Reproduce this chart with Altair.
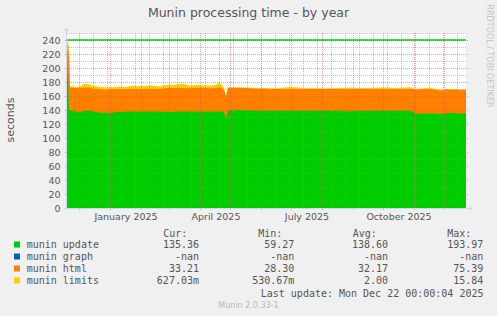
import altair as alt
import pandas as pd

# ---------------- data ----------------
dates = ["2024-11-19", "2024-11-20", "2024-11-21", "2024-11-22", "2024-11-25", "2024-11-28",
         "2024-12-02", "2024-12-06", "2024-12-10", "2024-12-14", "2024-12-18", "2024-12-22",
         "2024-12-26", "2024-12-30", "2025-01-03", "2025-01-07", "2025-01-11", "2025-01-15",
         "2025-01-19", "2025-01-23", "2025-01-27", "2025-01-31", "2025-02-04", "2025-02-08",
         "2025-02-12", "2025-02-16", "2025-02-20", "2025-02-24", "2025-02-28", "2025-03-04",
         "2025-03-08", "2025-03-12", "2025-03-16", "2025-03-20", "2025-03-24", "2025-03-28",
         "2025-04-01", "2025-04-05", "2025-04-09", "2025-04-13", "2025-04-17", "2025-04-21",
         "2025-04-24", "2025-04-26", "2025-04-27", "2025-04-28", "2025-04-29", "2025-05-03",
         "2025-05-11", "2025-05-19", "2025-05-27", "2025-06-04", "2025-06-12", "2025-06-20",
         "2025-06-28", "2025-07-06", "2025-07-14", "2025-07-22", "2025-07-30", "2025-08-07",
         "2025-08-15", "2025-08-23", "2025-08-29", "2025-09-04", "2025-09-12", "2025-09-20",
         "2025-09-28", "2025-10-06", "2025-10-14", "2025-10-22", "2025-10-28", "2025-10-31",
         "2025-11-03", "2025-11-07", "2025-11-13", "2025-11-19", "2025-11-25", "2025-11-30",
         "2025-12-03", "2025-12-09", "2025-12-13", "2025-12-17", "2025-12-22", "2025-12-23"]

update = [192, 192, 140, 139.4, 139, 137.5, 136.6, 139, 139, 138.5,
          137, 136, 136, 136, 136, 137, 137, 137.5, 138, 138,
          138, 138, 138, 138, 138, 138, 138, 137.5, 137, 137,
          138, 138, 138, 138, 138, 138, 138, 138, 138, 138,
          138, 138, 137.5, 134, 128.6, 133, 139, 139.5, 139.5, 139.5,
          139, 139, 139, 139, 139, 139, 139, 139, 139, 139,
          139, 139, 138, 139, 139, 139, 139, 139, 139, 139,
          139, 137, 134.5, 135, 135, 135, 134.5, 134.5, 135.5, 136,
          135, 135, 135.36, 135.36]

html = [34, 34, 75, 32.6, 32.5, 34, 34.4, 33, 33, 32.5,
        33, 33.5, 33, 33, 33.5, 33, 33, 32, 32, 32,
        32, 31.5, 32, 32.5, 32.5, 32, 32, 33.5, 34.5, 34.5,
        33.5, 33.5, 33.5, 33, 33, 33.5, 33.5, 33.5, 33, 33,
        33.5, 34, 33, 30, 30.4, 32, 32.5, 32, 32, 31.5,
        31.5, 31.5, 31, 31, 31, 31, 31, 31, 31, 31,
        31, 31, 32, 31, 31, 31, 31, 31, 31, 31,
        31, 32.5, 34.5, 34.5, 35, 34.5, 33.5, 33.5, 33.5, 33,
        34, 33.5, 33.21, 33.21]

limits = [11, 11, 15.8, 2, 2.5, 1.5, 2.5, 5.5, 5, 4,
          4, 3.5, 3.5, 3, 3, 3, 4, 3, 3.5, 5,
          4, 5, 4, 4.5, 4.5, 4, 3.5, 4, 4.5, 4.5,
          4.5, 5.5, 5.5, 4.5, 4, 4.5, 4, 3.5, 4, 4,
          4.5, 7, 3.5, 3, 1, 2, 1, 1, 1, 1,
          1, 1, 1, 1.5, 2.5, 2.5, 1, 1.5, 1, 1,
          1.5, 1.5, 2, 1.5, 1.5, 1.5, 2, 2, 1, 2,
          2.5, 1.5, 1.5, 1, 1.5, 1.5, 1.5, 1, 1, 1,
          1, 0.5, 0.63, 0.63]

names = ["munin update", "munin graph", "munin html", "munin limits"]
colors = ["#00CC00", "#0066B3", "#FF8000", "#FFCC00"]
cur_vals = ["135.36", "-nan", "33.21", "627.03m"]
min_vals = ["59.27", "-nan", "28.30", "530.67m"]
avg_vals = ["138.60", "-nan", "32.17", "2.00"]
max_vals = ["193.97", "-nan", "75.39", "15.84"]
headers = ["Cur:", "Min:", "Avg:", "Max:"]

y_ticks = [0, 20, 40, 60, 80, 100, 120, 140, 160, 180, 200, 220, 240]
y_minor = [10, 30, 50, 70, 90, 110, 130, 150, 170, 190, 210, 230, 250]
x_major = pd.date_range("2024-12-01", "2025-12-01", freq="MS").strftime("%Y-%m-%d").tolist()
x_minor = pd.date_range("2024-12-15", "2025-12-20", freq="14D").strftime("%Y-%m-%d").tolist()
x_label_dates = [(2025, 1, 16), (2025, 4, 16), (2025, 7, 16), (2025, 10, 16)]
hrule_value = 240

title_text = "Munin processing time - by year"
y_title = "seconds"
last_update = "Last update: Mon Dec 22 00:00:04 2025"
version_text = "Munin 2.0.33-1"
watermark = "RRDTOOL / TOBI OETIKER"

# ---------------- tables ----------------
df = pd.DataFrame({"date": dates, "update": update, "html": html, "limits": limits})
df["u_top"] = df["update"]
df["h_top"] = df["update"] + df["html"]
df["l_top"] = df["h_top"] + df["limits"]

FONT = "DejaVu Sans"
MONO = "DejaVu Sans Mono"
TXT = "#555555"
AXIS_COL = "#CFD6F8"

xscale = alt.Scale(type="utc",
                   domain=[alt.DateTime(year=2024, month=11, date=19, utc=True),
                           alt.DateTime(year=2025, month=12, date=23, utc=True)])
xaxis = alt.Axis(values=[alt.DateTime(year=y, month=m, date=d, hours=12, utc=True)
                         for (y, m, d) in x_label_dates],
                 labelExpr="utcFormat(datum.value, '%B %Y')", title=None, grid=False,
                 ticks=False, domain=False, labelFont=FONT, labelFontSize=9.5,
                 labelColor=TXT, labelPadding=3, labelOverlap=False)
yscale = alt.Scale(domain=[0, 250], nice=False, zero=True)
yaxis = alt.Axis(values=y_ticks, title=None, grid=False, domain=False, ticks=True,
                 tickColor="#E88080", tickSize=2, labelFont=FONT, labelFontSize=9.5,
                 labelColor=TXT, labelPadding=5, labelOverlap=False)


def X(field="date"):
    return alt.X(f"{field}:T", scale=xscale, axis=xaxis)


def Y(field):
    return alt.Y(f"{field}:Q", scale=yscale, axis=yaxis)


base = alt.Chart(df)
area_l = base.mark_area(color=colors[3], interpolate="linear").encode(x=X(), y=Y("l_top"))
area_h = base.mark_area(color=colors[2], interpolate="linear").encode(x=X(), y=Y("h_top"))
area_u = base.mark_area(color=colors[0], interpolate="linear").encode(x=X(), y=Y("u_top"))

GREY = "#8F8F8F"
RED = "#E05050"
grid_minor_x = alt.Chart(pd.DataFrame({"date": x_minor})).mark_rule(
    color=GREY, strokeOpacity=0.55, strokeDash=[1, 1], strokeWidth=1, xOffset=0.5).encode(
    x=alt.X("date:T", scale=xscale), y=alt.value(0), y2=alt.value(175))
grid_major_x = alt.Chart(pd.DataFrame({"date": x_major})).mark_rule(
    color=RED, strokeOpacity=0.55, strokeDash=[1, 1], strokeWidth=1, xOffset=0.5).encode(
    x=alt.X("date:T", scale=xscale), y=alt.value(0), y2=alt.value(177))
grid_minor_y = alt.Chart(pd.DataFrame({"v": y_minor})).mark_rule(
    color=GREY, strokeOpacity=0.55, strokeDash=[1, 1], strokeWidth=1, yOffset=0.5).encode(
    y=Y("v"), x=alt.value(0), x2=alt.value(399))
grid_major_y = alt.Chart(pd.DataFrame({"v": y_ticks})).mark_rule(
    color=RED, strokeOpacity=0.55, strokeDash=[1, 1], strokeWidth=1, yOffset=0.5).encode(
    y=Y("v"), x=alt.value(-2), x2=alt.value(401))

hrule = alt.Chart(pd.DataFrame({"v": [hrule_value]})).mark_rule(
    color=colors[0], strokeWidth=1.5).encode(y=Y("v"), x=alt.value(0), x2=alt.value(399))

one = pd.DataFrame({"a": [0]})
yaxis_line = alt.Chart(one).mark_rule(color=AXIS_COL, strokeWidth=1).encode(
    x=alt.value(-0.5), y=alt.value(-2), y2=alt.value(177))
xaxis_line = alt.Chart(one).mark_rule(color=AXIS_COL, strokeWidth=1).encode(
    x=alt.value(-2), x2=alt.value(403), y=alt.value(175.5))
arrow_up = alt.Chart(one).mark_point(shape="triangle-up", filled=True, color=AXIS_COL,
                                     size=22, opacity=1).encode(x=alt.value(-0.5), y=alt.value(-4))
arrow_right = alt.Chart(one).mark_point(shape="triangle-right", filled=True, color=AXIS_COL,
                                        size=22, opacity=1).encode(x=alt.value(404), y=alt.value(175.5))


def text(t, x, y, size=10, font=MONO, color=TXT, align="left", baseline="alphabetic", angle=0):
    kw = dict(text=t, font=font, fontSize=size, color=color, align=align, baseline=baseline)
    if angle:
        kw["angle"] = angle
    return alt.Chart(one).mark_text(**kw).encode(x=alt.value(x), y=alt.value(y))


texts = [
    text(title_text, 181.5, -16.5, size=12.5, font=FONT, align="center"),
    text(y_title, -56, 87, size=11, font=FONT, align="center", baseline="middle", angle=270),
    text(watermark, 422, 23, size=8, font=FONT, color="#C4C4C4", align="center",
         baseline="middle", angle=90),
    text(version_text, 181.5, 275, size=8, font=FONT, color="#B8B8B8", align="center"),
    text(last_update, 416.5, 263.5, align="right"),
]
header_x = [96.3, 191.3, 285.7, 380.3]
for hx, h in zip(header_x, headers):
    texts.append(text(h, hx, 203.5))

col_right = [132, 227.3, 321, 416.3]
columns = [cur_vals, min_vals, avg_vals, max_vals]
squares = []
for i, (nm, col) in enumerate(zip(names, colors)):
    yb = 215 + 12 * i
    squares.append(alt.Chart(one).mark_square(color=col, size=36, opacity=1, filled=True)
                   .encode(x=alt.value(-50), y=alt.value(yb - 3.5)))
    texts.append(text(nm, -40.3, yb))
    for cx, vals in zip(col_right, columns):
        v = vals[i]
        if not v.endswith("m"):
            v = v + "\u00a0"
        texts.append(text(v, cx, yb, align="right"))

chart = alt.layer(
    area_l, area_h, area_u,
    grid_minor_x, grid_major_x, grid_minor_y, grid_major_y,
    hrule, yaxis_line, xaxis_line, arrow_up, arrow_right,
    *squares, *texts
).properties(
    width=399, height=175, background="#F0F0F0",
    padding={"left": 67, "top": 33, "right": 31, "bottom": 108},
    autosize=alt.AutoSizeParams(type="none"),
).configure_view(stroke=None, fill="white")

chart.save("out.html", embed_options={"renderer": "svg", "actions": False})
